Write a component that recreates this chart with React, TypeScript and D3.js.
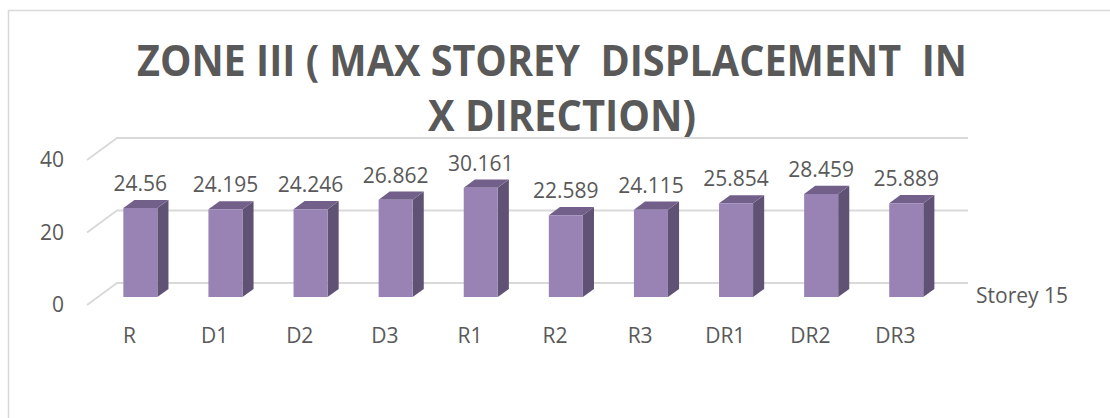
import React from "react";
import * as d3 from "d3";

const categories = ["R", "D1", "D2", "D3", "R1", "R2", "R3", "DR1", "DR2", "DR3"];
const values = [24.56, 24.195, 24.246, 26.862, 30.161, 22.589, 24.115, 25.854, 28.459, 25.889];
const valueLabels = ["24.56", "24.195", "24.246", "26.862", "30.161", "22.589", "24.115", "25.854", "28.459", "25.889"];
const ticks = [0, 20, 40];
const seriesName = "Storey 15";
const titleLine1 = "ZONE III ( MAX STOREY  DISPLACEMENT  IN";
const titleLine2 = "X DIRECTION)";

const W = 1110;
const H = 418;
const TEXT = "#595959";
const GRID = "#D9D9D9";
const FRONT = "#9983B4";
const SIDE = "#605274";
const TOP = "#72608A";
const FONT = "'Open Sans', sans-serif";

// 3D projection: back wall and depth offset
const DEPTH_DX = -30;
const DEPTH_DY = 22;
const barFrontDepth = 0.64; // fraction of depth (0 = back wall, 1 = front)
const barBackDepth = 0.27;

export default function App() {
  const x = d3.scaleBand<string>().domain(categories).range([117, 968]).paddingInner(0).paddingOuter(0);
  const y = d3.scaleLinear().domain([0, 40]).range([283, 138]);
  const bw = x.bandwidth();
  const barW = bw * 0.4;

  const proj = (px: number, py: number, depth: number): [number, number] => [px + DEPTH_DX * depth, py + DEPTH_DY * depth];
  const pts = (arr: [number, number][]) => arr.map((p) => p.join(",")).join(" ");

  return (
    <svg width={W} height={H} style={{ position: "absolute", left: 0, top: 0, background: "#fff" }}>
      <rect x={8.5} y={10.5} width={W + 20} height={H + 20} fill="#fff" stroke={GRID} strokeWidth={1.5} />
      {/* title */}
      <text x={137} y={76} fontFamily={FONT} fontWeight={700} fontSize={43} fill={TEXT} textLength={830} lengthAdjust="spacingAndGlyphs" style={{ whiteSpace: "pre" }}>
        {titleLine1}
      </text>
      <text x={428} y={131} fontFamily={FONT} fontWeight={700} fontSize={43} fill={TEXT} textLength={268} lengthAdjust="spacingAndGlyphs" style={{ whiteSpace: "pre" }}>
        {titleLine2}
      </text>
      {/* gridlines: back wall + side wall */}
      {ticks.map((t) => {
        const [x0, y0] = [x.range()[0], y(t)];
        const [fx, fy] = proj(x0, y0, 1);
        return (
          <g key={t}>
            <polyline points={pts([[fx, fy], [x0, y0], [x.range()[1], y0]])} fill="none" stroke={GRID} strokeWidth={1.8} />
            <text x={64} y={fy} dy="0.35em" textAnchor="end" fontFamily={FONT} fontSize={21} fill={TEXT}>
              {t}
            </text>
          </g>
        );
      })}
      {/* bars */}
      {categories.map((c, i) => {
        const cx = (x(c) as number) + bw / 2;
        const l = cx - barW / 2;
        const r = cx + barW / 2;
        const base = y(0);
        const top = y(values[i]);
        const fBL = proj(l, base, barFrontDepth);
        const fBR = proj(r, base, barFrontDepth);
        const fTL = proj(l, top, barFrontDepth);
        const fTR = proj(r, top, barFrontDepth);
        const bBR = proj(r, base, barBackDepth);
        const bTR = proj(r, top, barBackDepth);
        const bTL = proj(l, top, barBackDepth);
        return (
          <g key={c}>
            <polygon points={pts([fBR, bBR, bTR, fTR])} fill={SIDE} />
            <polygon points={pts([fTL, fTR, bTR, bTL])} fill={TOP} />
            <polygon points={pts([fBL, fBR, fTR, fTL])} fill={FRONT} />
            <text x={(fTL[0] + fTR[0]) / 2} y={bTR[1] - 9} textAnchor="middle" fontFamily={FONT} fontSize={21} fill={TEXT}>
              {valueLabels[i]}
            </text>
          </g>
        );
      })}
      {/* category labels at the front edge of the floor */}
      {categories.map((c) => {
        const [lx] = proj((x(c) as number) + bw / 2, y(0), 1);
        return (
          <text key={c} x={lx} y={343} textAnchor="middle" fontFamily={FONT} fontSize={21} fill={TEXT}>
            {c}
          </text>
        );
      })}
      {/* legend */}
      <text x={976} y={303} fontFamily={FONT} fontSize={21} fill={TEXT}>
        {seriesName}
      </text>
    </svg>
  );
}
